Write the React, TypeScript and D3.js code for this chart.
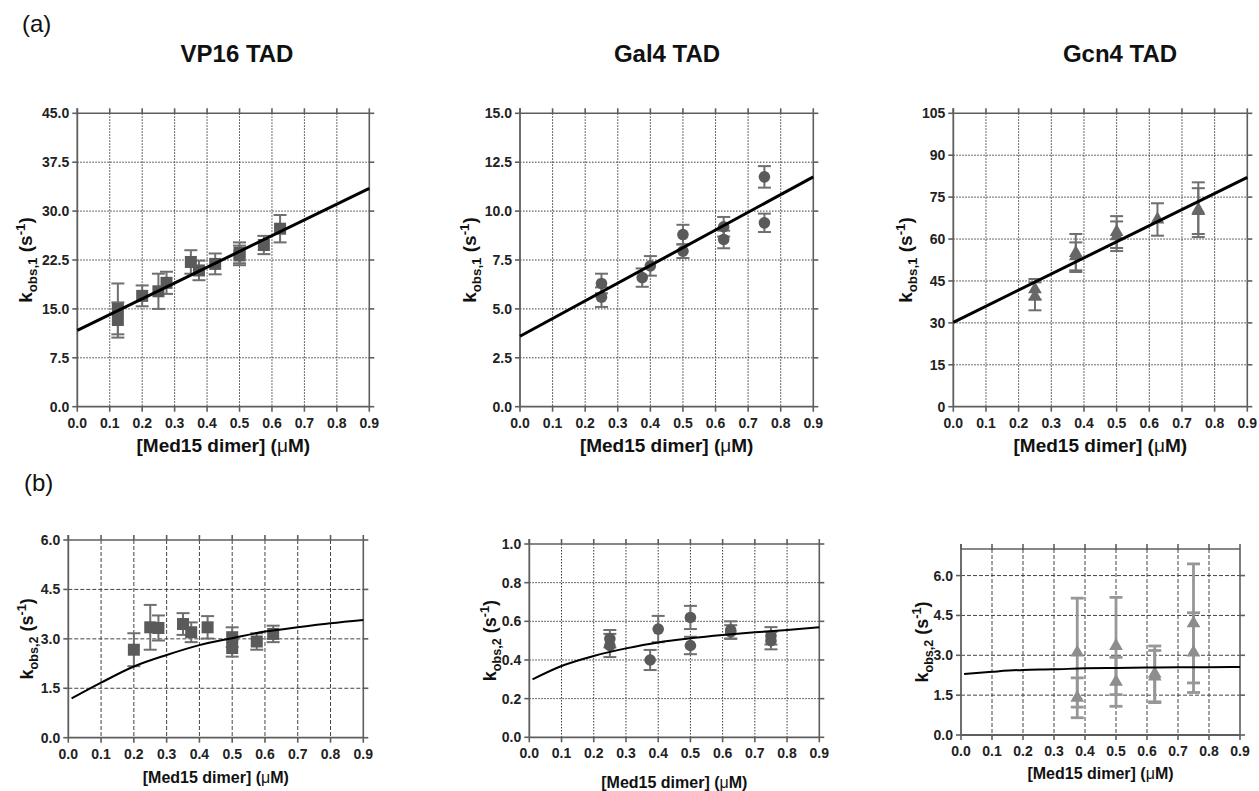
import React from "react";
import * as d3 from "d3";

// ---------- Data ----------
const xTicks = [0, 0.1, 0.2, 0.3, 0.4, 0.5, 0.6, 0.7, 0.8, 0.9];
const titles = ["VP16 TAD", "Gal4 TAD", "Gcn4 TAD"];

// (a) kobs,1
const vp16K1X = [0.125, 0.125, 0.2, 0.25, 0.275, 0.35, 0.375, 0.425, 0.5, 0.5, 0.575, 0.625];
const vp16K1Y = [15.0, 13.3, 17.0, 17.7, 19.0, 22.2, 20.9, 21.9, 23.6, 23.2, 24.8, 27.3];
const vp16K1E = [3.9, 2.7, 1.6, 2.7, 1.7, 1.8, 1.5, 1.6, 1.6, 1.5, 1.4, 2.1];
const vp16K1FitX = [0, 0.9];
const vp16K1FitY = [11.7, 33.5];
const vp16K1Ticks = [0, 7.5, 15, 22.5, 30, 37.5, 45];

const gal4K1X = [0.25, 0.25, 0.375, 0.4, 0.5, 0.5, 0.625, 0.625, 0.75, 0.75];
const gal4K1Y = [6.3, 5.6, 6.6, 7.2, 8.8, 7.95, 9.2, 8.55, 11.75, 9.4];
const gal4K1E = [0.5, 0.5, 0.47, 0.5, 0.5, 0.35, 0.5, 0.45, 0.55, 0.47];
const gal4K1FitX = [0, 0.9];
const gal4K1FitY = [3.6, 11.75];
const gal4K1Ticks = [0, 2.5, 5, 7.5, 10, 12.5, 15];

const gcn4K1X = [0.25, 0.25, 0.375, 0.375, 0.5, 0.5, 0.625, 0.75, 0.75];
const gcn4K1Y = [42.0, 39.5, 55.0, 53.8, 62.5, 61.0, 67.0, 70.5, 70.0];
const gcn4K1E = [3.7, 5.0, 6.8, 5.0, 5.7, 5.3, 5.8, 9.8, 8.2];
const gcn4K1FitX = [0, 0.9];
const gcn4K1FitY = [30.2, 82.1];
const gcn4K1Ticks = [0, 15, 30, 45, 60, 75, 90, 105];

// (b) kobs,2
const vp16K2X = [0.2, 0.25, 0.275, 0.35, 0.375, 0.425, 0.5, 0.5, 0.575, 0.625];
const vp16K2Y = [2.67, 3.35, 3.33, 3.45, 3.2, 3.35, 3.05, 2.72, 2.92, 3.15];
const vp16K2E = [0.5, 0.68, 0.38, 0.33, 0.3, 0.34, 0.3, 0.26, 0.25, 0.25];
const vp16K2FitX = [0.01, 0.1, 0.2, 0.3, 0.4, 0.5, 0.6, 0.7, 0.8, 0.9];
const vp16K2FitY = [1.19, 1.67, 2.16, 2.51, 2.81, 3.02, 3.22, 3.35, 3.47, 3.57];
const vp16K2Ticks = [0, 1.5, 3, 4.5, 6];

const gal4K2X = [0.25, 0.25, 0.375, 0.4, 0.5, 0.5, 0.625, 0.625, 0.75, 0.75];
const gal4K2Y = [0.51, 0.475, 0.4, 0.56, 0.62, 0.475, 0.555, 0.545, 0.525, 0.5];
const gal4K2E = [0.045, 0.06, 0.052, 0.068, 0.06, 0.045, 0.045, 0.035, 0.045, 0.045];
const gal4K2FitX = [0.01, 0.1, 0.2, 0.3, 0.4, 0.5, 0.6, 0.7, 0.8, 0.9];
const gal4K2FitY = [0.3, 0.369, 0.421, 0.46, 0.491, 0.512, 0.529, 0.543, 0.555, 0.569];
const gal4K2Ticks = [0, 0.2, 0.4, 0.6, 0.8, 1.0];

const gcn4K2X = [0.375, 0.375, 0.5, 0.5, 0.625, 0.625, 0.75, 0.75];
const gcn4K2Y = [3.1, 1.4, 3.35, 2.0, 2.3, 2.2, 4.2, 3.1];
const gcn4K2E = [2.05, 0.75, 1.83, 0.92, 1.05, 0.98, 2.24, 1.5];
const gcn4K2FitX = [0.01, 0.1, 0.2, 0.3, 0.4, 0.5, 0.6, 0.7, 0.8, 0.9];
const gcn4K2FitY = [2.3, 2.38, 2.45, 2.47, 2.51, 2.52, 2.54, 2.55, 2.55, 2.56];
const gcn4K2Ticks = [0, 1.5, 3, 4.5, 6];

// ---------- Rendering ----------
const FONT = "'Liberation Sans', Arial, Helvetica, sans-serif";

type PanelCfg = {
  left: number; right: number; top: number; bottom: number;
  yMax: number; yTicks: number[]; yFmt: (v: number) => string;
  xs: number[]; ys: number[]; es: number[];
  fitX: number[]; fitY: number[]; curved: boolean;
  marker: "square" | "circle" | "triangle";
  markerColor: string; errColor: string; errWidth: number;
  gridDash: string; gridColor: string; fitWidth: number;
  yLabelX: number; sub: string; labelSize: number;
  xLabelY: number; xLabelSize: number; topBorderColor?: string;
};

function Panel({ c }: { c: PanelCfg }) {
  const x = d3.scaleLinear().domain([0, 0.9]).range([c.left, c.right]);
  const y = d3.scaleLinear().domain([0, c.yMax]).range([c.bottom, c.top]);
  const line = d3
    .line<number>()
    .x((_, i) => x(c.fitX[i]))
    .y((d) => y(d))
    .curve(c.curved ? d3.curveMonotoneX : d3.curveLinear);
  const frameColor = "#5e5e5e";
  const tick = 5;
  const cap = 6.5;
  const tri = d3.symbol(d3.symbolTriangle, 82)();
  const midY = (c.top + c.bottom) / 2;
  const midX = (c.left + c.right) / 2;
  return (
    <g>
      {/* grid */}
      {xTicks.slice(1, -1).map((t) => (
        <line key={"gx" + t} x1={x(t)} x2={x(t)} y1={c.top} y2={c.bottom}
          stroke={c.gridColor} strokeWidth={1} strokeDasharray={c.gridDash} />
      ))}
      {c.yTicks.filter((t) => t > 0 && t < c.yMax).map((t) => (
        <line key={"gy" + t} x1={c.left} x2={c.right} y1={y(t)} y2={y(t)}
          stroke={c.gridColor} strokeWidth={1} strokeDasharray={c.gridDash} />
      ))}
      {/* frame */}
      <line x1={c.left} x2={c.right} y1={c.top} y2={c.top} stroke={c.topBorderColor || frameColor} strokeWidth={c.topBorderColor ? 1.2 : 1.6} />
      <line x1={c.right} x2={c.right} y1={c.top} y2={c.bottom} stroke={frameColor} strokeWidth={1.6} />
      <line x1={c.left} x2={c.right} y1={c.bottom} y2={c.bottom} stroke={frameColor} strokeWidth={1.8} />
      <line x1={c.left} x2={c.left} y1={c.top - tick} y2={c.bottom} stroke={frameColor} strokeWidth={1.8} />
      {/* ticks */}
      {xTicks.map((t) => (
        <g key={"tx" + t}>
          <line x1={x(t)} x2={x(t)} y1={c.bottom} y2={c.bottom + tick} stroke={frameColor} strokeWidth={1.6} />
          <line x1={x(t)} x2={x(t)} y1={c.top} y2={c.top - tick} stroke={frameColor} strokeWidth={1.6} />
          <text x={x(t)} y={c.bottom + 21} textAnchor="middle" fontFamily={FONT}
            fontWeight="bold" fontSize={14} fill="#222">{d3.format(".1f")(t)}</text>
        </g>
      ))}
      {c.yTicks.map((t) => (
        <g key={"ty" + t}>
          <line x1={c.left - tick} x2={c.left} y1={y(t)} y2={y(t)} stroke={frameColor} strokeWidth={1.6} />
          <line x1={c.right} x2={c.right + tick} y1={y(t)} y2={y(t)} stroke={frameColor} strokeWidth={1.6} />
          <text x={c.left - 8} y={y(t) + 5} textAnchor="end" fontFamily={FONT}
            fontWeight="bold" fontSize={14} fill="#222">{c.yFmt(t)}</text>
        </g>
      ))}
      {/* error bars */}
      {c.xs.map((xv, i) => {
        const px = x(xv);
        const y1 = y(c.ys[i] + c.es[i]);
        const y2 = y(c.ys[i] - c.es[i]);
        return (
          <g key={"e" + i} stroke={c.errColor} strokeWidth={c.errWidth}>
            <line x1={px} x2={px} y1={y1} y2={y2} />
            <line x1={px - cap} x2={px + cap} y1={y1} y2={y1} />
            <line x1={px - cap} x2={px + cap} y1={y2} y2={y2} />
          </g>
        );
      })}
      {/* markers */}
      {c.xs.map((xv, i) => {
        const px = x(xv);
        const py = y(c.ys[i]);
        if (c.marker === "square")
          return <rect key={"m" + i} x={px - 6} y={py - 6} width={12} height={12} fill={c.markerColor} />;
        if (c.marker === "circle")
          return <circle key={"m" + i} cx={px} cy={py} r={5.8} fill={c.markerColor} />;
        return <path key={"m" + i} d={tri || ""} transform={`translate(${px},${py})`} fill={c.markerColor} />;
      })}
      {/* fit */}
      <path d={line(c.fitY) || ""} fill="none" stroke="#000" strokeWidth={c.fitWidth} />
      {/* axis labels */}
      <text x={midX} y={c.xLabelY} textAnchor="middle" fontFamily={FONT} fontWeight="bold"
        fontSize={c.xLabelSize} fill="#111">
        [Med15 dimer] (<tspan fontWeight="normal">μ</tspan>M)
      </text>
      <text transform={`translate(${c.yLabelX},${midY}) rotate(-90)`} textAnchor="middle"
        fontFamily={FONT} fontWeight="bold" fontSize={c.labelSize} fill="#111">
        k<tspan fontSize={c.labelSize * 0.7} dy={5}>{c.sub}</tspan>
        <tspan dy={-5}> (s</tspan>
        <tspan fontSize={c.labelSize * 0.7} dy={-7}>-1</tspan>
        <tspan dy={7}>)</tspan>
      </text>
    </g>
  );
}

const f1 = d3.format(".1f");
const f0 = d3.format("d");

const panels: PanelCfg[] = [
  {
    left: 77.3, right: 369.3, top: 113.3, bottom: 406.7, yMax: 45, yTicks: vp16K1Ticks, yFmt: f1,
    xs: vp16K1X, ys: vp16K1Y, es: vp16K1E, fitX: vp16K1FitX, fitY: vp16K1FitY, curved: false,
    marker: "square", markerColor: "#5a5a5a", errColor: "#6f6f6f", errWidth: 2,
    gridDash: "1.5,1.5", gridColor: "#3a3a3a", fitWidth: 3,
    yLabelX: 32, sub: "obs,1", labelSize: 19, xLabelY: 452, xLabelSize: 19,
  },
  {
    left: 520, right: 813.3, top: 113.3, bottom: 406.7, yMax: 15, yTicks: gal4K1Ticks, yFmt: f1,
    xs: gal4K1X, ys: gal4K1Y, es: gal4K1E, fitX: gal4K1FitX, fitY: gal4K1FitY, curved: false,
    marker: "circle", markerColor: "#5a5a5a", errColor: "#6f6f6f", errWidth: 2,
    gridDash: "1.5,1.5", gridColor: "#3a3a3a", fitWidth: 3,
    yLabelX: 476, sub: "obs,1", labelSize: 19, xLabelY: 452, xLabelSize: 19,
  },
  {
    left: 953.3, right: 1247.3, top: 113.3, bottom: 406.7, yMax: 105, yTicks: gcn4K1Ticks, yFmt: f0,
    xs: gcn4K1X, ys: gcn4K1Y, es: gcn4K1E, fitX: gcn4K1FitX, fitY: gcn4K1FitY, curved: false,
    marker: "triangle", markerColor: "#676767", errColor: "#6f6f6f", errWidth: 2,
    gridDash: "1.5,1.5", gridColor: "#3a3a3a", fitWidth: 3,
    yLabelX: 912, sub: "obs,1", labelSize: 19, xLabelY: 452, xLabelSize: 19,
  },
  {
    left: 68.3, right: 363.3, top: 540, bottom: 737.7, yMax: 6, yTicks: vp16K2Ticks, yFmt: f1,
    xs: vp16K2X, ys: vp16K2Y, es: vp16K2E, fitX: vp16K2FitX, fitY: vp16K2FitY, curved: true,
    marker: "square", markerColor: "#5a5a5a", errColor: "#6f6f6f", errWidth: 2,
    gridDash: "4,2", gridColor: "#444", fitWidth: 2,
    yLabelX: 33, sub: "obs,2", labelSize: 18, xLabelY: 783, xLabelSize: 16,
  },
  {
    left: 529.3, right: 819.3, top: 544, bottom: 737.3, yMax: 1.0, yTicks: gal4K2Ticks, yFmt: f1,
    xs: gal4K2X, ys: gal4K2Y, es: gal4K2E, fitX: gal4K2FitX, fitY: gal4K2FitY, curved: true,
    marker: "circle", markerColor: "#5a5a5a", errColor: "#6f6f6f", errWidth: 2,
    gridDash: "1.5,1.5", gridColor: "#3a3a3a", fitWidth: 2,
    yLabelX: 496, sub: "obs,2", labelSize: 18, xLabelY: 788, xLabelSize: 16,
  },
  {
    left: 961, right: 1240, top: 549, bottom: 735, yMax: 7, yTicks: gcn4K2Ticks, yFmt: f1,
    xs: gcn4K2X, ys: gcn4K2Y, es: gcn4K2E, fitX: gcn4K2FitX, fitY: gcn4K2FitY, curved: true,
    marker: "triangle", markerColor: "#8d8d8d", errColor: "#979797", errWidth: 2.8,
    gridDash: "4,2", gridColor: "#444", fitWidth: 2,
    yLabelX: 928, sub: "obs,2", labelSize: 18, xLabelY: 779, xLabelSize: 16, topBorderColor: "#111",
  },
];

const titleX = [237, 667, 1120];

export default function App() {
  return (
    <svg width={1259} height={791} style={{ position: "absolute", left: 0, top: 0, background: "#fff" }}>
      <rect x={0} y={0} width={1259} height={791} fill="#fff" />
      <text x={22} y={32} fontFamily={FONT} fontSize={24} fill="#111">(a)</text>
      <text x={24} y={491} fontFamily={FONT} fontSize={24} fill="#111">(b)</text>
      {titles.map((t, i) => (
        <text key={t} x={titleX[i]} y={62} textAnchor="middle" fontFamily={FONT}
          fontWeight="bold" fontSize={24} fill="#111">{t}</text>
      ))}
      {panels.map((p, i) => (
        <Panel key={i} c={p} />
      ))}
    </svg>
  );
}
